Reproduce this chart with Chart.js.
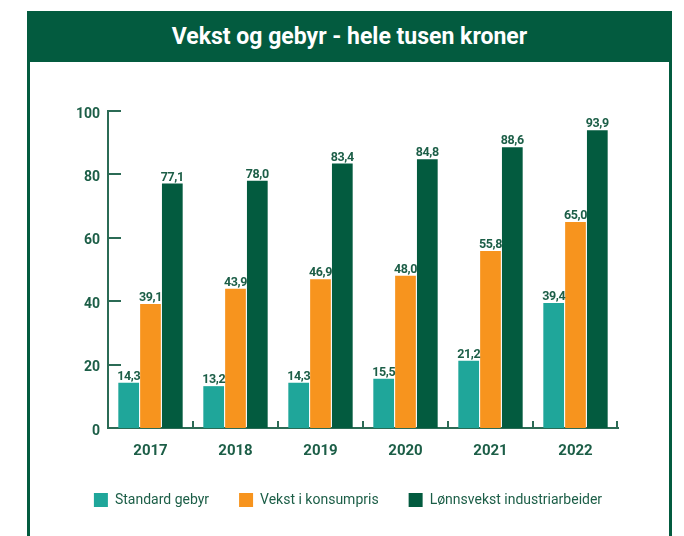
<!DOCTYPE html>
<html>
<head>
<meta charset="utf-8">
<script src="https://cdn.jsdelivr.net/npm/chart.js@4"></script>
<style>
    body { margin: 0; background: #fff; }
    #frame {
        position: absolute; left: 27px; top: 11px; width: 645px; height: 525px;
        border-left: 3px solid #035b3f; border-right: 3px solid #035b3f;
        box-sizing: border-box;
    }
    #head {
        height: 51px; background: #035b3f; color: #fff; text-align: center;
        font: bold 23px Roboto, sans-serif; line-height: 51px;
    }
    #wrap { position: relative; width: 639px; height: 474px; }
</style>
</head>
<body>
<div id="frame">
    <div id="head">Vekst og gebyr - hele tusen kroner</div>
    <div id="wrap"><canvas id="chart"></canvas></div>
</div>
<script>
const years = ['2017', '2018', '2019', '2020', '2021', '2022'];
const standardGebyr = [14.3, 13.2, 14.3, 15.5, 21.2, 39.4];
const konsumpris = [39.1, 43.9, 46.9, 48.0, 55.8, 65.0];
const lonnsvekst = [77.1, 78.0, 83.4, 84.8, 88.6, 93.9];
const yTicks = [0, 20, 40, 60, 80, 100];

const textColor = '#1c5e47';
const axisColor = '#2b6b55';

// value labels above bars, with decimal comma
const barLabels = {
    id: 'barLabels',
    afterDatasetsDraw(chart) {
        const ctx = chart.ctx;
        ctx.save();
        ctx.font = 'bold 12.5px Roboto, sans-serif';
        ctx.fillStyle = textColor;
        ctx.textAlign = 'center';
        ctx.textBaseline = 'alphabetic';
        if ('letterSpacing' in ctx) ctx.letterSpacing = '-0.4px';
        chart.data.datasets.forEach((ds, di) => {
            chart.getDatasetMeta(di).data.forEach((bar, i) => {
                ctx.fillText(ds.data[i].toFixed(1).replace('.', ','), bar.x, bar.y - 3);
            });
        });
        ctx.restore();
    }
};

// short inner tick marks on both axes
const axisTicks = {
    id: 'axisTicks',
    afterDraw(chart) {
        const ctx = chart.ctx;
        const x = chart.scales.x, y = chart.scales.y;
        const area = chart.chartArea;
        ctx.save();
        ctx.strokeStyle = axisColor;
        ctx.lineWidth = 2;
        ctx.beginPath();
        y.ticks.forEach((t, i) => {
            if (t.value === 0) return;
            const py = Math.round(y.getPixelForTick(i));
            ctx.moveTo(area.left, py);
            ctx.lineTo(area.left + 13, py);
        });
        for (let i = 0; i < years.length; i++) {
            const px = i < years.length - 1
                ? (x.getPixelForTick(i) + x.getPixelForTick(i + 1)) / 2
                : area.right - 1;
            ctx.moveTo(Math.round(px), area.bottom);
            ctx.lineTo(Math.round(px), area.bottom - 7);
        }
        ctx.stroke();
        ctx.restore();
    }
};

// the legend sits a bit right of the plot centre in the original
const legendShift = {
    id: 'legendShift',
    afterLayout(chart) {
        chart.legend.left += 24;
        chart.legend.right += 24;
    }
};

const ctx = document.getElementById('chart').getContext('2d');
new Chart(ctx, {
    type: 'bar',
    data: {
        labels: years,
        datasets: [
            { label: 'Standard gebyr', data: standardGebyr, backgroundColor: '#1fa69a' },
            { label: 'Vekst i konsumpris', data: konsumpris, backgroundColor: '#f7941e' },
            { label: 'Lønnsvekst industriarbeider', data: lonnsvekst, backgroundColor: '#035b3f' }
        ]
    },
    options: {
        responsive: true,
        maintainAspectRatio: false,
        animation: false,
        layout: { padding: { left: 0, right: 51, top: 49, bottom: 19 } },
        datasets: {
            bar: { categoryPercentage: 0.77, barPercentage: 0.95 }
        },
        plugins: {
            tooltip: { enabled: false },
            legend: {
                position: 'bottom',
                labels: {
                    boxWidth: 14,
                    boxHeight: 14,
                    padding: 30,
                    color: textColor,
                    font: { family: 'Roboto, sans-serif', size: 14 }
                }
            }
        },
        scales: {
            x: {
                afterFit: s => { s.height = 35; },
                grid: { display: false, drawTicks: false },
                border: { display: true, color: axisColor, width: 2 },
                ticks: {
                    padding: 14,
                    color: textColor,
                    font: { family: 'Roboto, sans-serif', size: 15, weight: 'bold' }
                }
            },
            y: {
                min: 0,
                max: 100,
                afterFit: s => { s.width = 78; },
                afterBuildTicks: s => { s.ticks = yTicks.map(v => ({ value: v })); },
                grid: { display: false, drawTicks: false },
                border: { display: true, color: axisColor, width: 2 },
                ticks: {
                    padding: 8,
                    labelOffset: 3,
                    color: textColor,
                    font: { family: 'Roboto, sans-serif', size: 14, weight: 'bold' }
                }
            }
        }
    },
    plugins: [barLabels, axisTicks, legendShift]
});
</script>
</body>
</html>
